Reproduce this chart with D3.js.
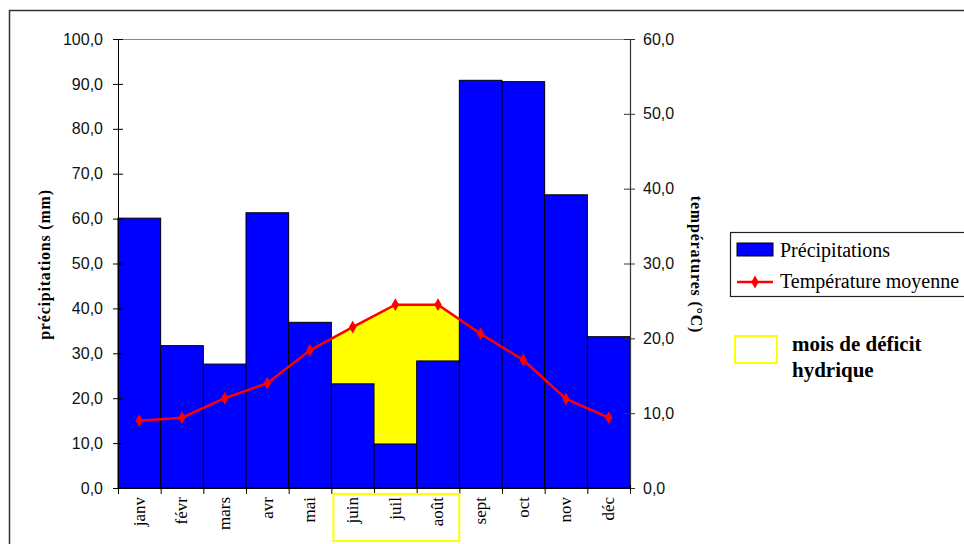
<!DOCTYPE html>
<html>
<head>
<meta charset="utf-8">
<script src="https://cdn.jsdelivr.net/npm/d3@7"></script>
<style>
  html, body { margin: 0; padding: 0; background: #fff; }
  svg { display: block; }
</style>
</head>
<body>
<svg id="chart" width="964" height="544"></svg>
<script>
// ---- data ----
const months = ["janv", "févr", "mars", "avr", "mai", "juin", "juil", "août", "sept", "oct", "nov", "déc"];
const precipitations = [60.1, 31.7, 27.6, 61.3, 36.9, 23.2, 9.8, 28.3, 90.8, 90.5, 65.3, 33.7];
const temperatures = [9.0, 9.4, 12.0, 14.0, 18.4, 21.5, 24.5, 24.5, 20.6, 17.1, 11.9, 9.4];
const deficitMonths = ["juin", "juil", "août"];
const precipTicks = [0, 10, 20, 30, 40, 50, 60, 70, 80, 90, 100];
const tempTicks = [0, 10, 20, 30, 40, 50, 60];
const legendLabels = ["Précipitations", "Température moyenne"];
const deficitLabel = ["mois de déficit", "hydrique"];
const yTitleLeft = "précipitations (mm)";
const yTitleRight = "températures (°C)";

// ---- layout ----
const svg = d3.select("#chart");
const pL = 118, pR = 630, pT = 39, pB = 488;
const fmt = v => d3.format(".1f")(v).replace(".", ",");

const x = d3.scaleBand().domain(months).range([pL, pR]).padding(0);
const yP = d3.scaleLinear().domain([0, 100]).range([pB, pT]);
const yT = d3.scaleLinear().domain([0, 60]).range([pB, pT]);
const xEdge = d3.scaleLinear().domain([0, months.length]).range([pL, pR]);

svg.append("rect").attr("width", 964).attr("height", 544).attr("fill", "#fff");

// outer frame
svg.append("path")
  .attr("d", "M9.5,544 L9.5,10.5 L964,10.5")
  .attr("fill", "none").attr("stroke", "#333").attr("stroke-width", 1.5);

// top plot line
svg.append("line")
  .attr("x1", pL).attr("x2", pR).attr("y1", pT + 0.5).attr("y2", pT + 0.5)
  .attr("stroke", "#8a8a8a").attr("stroke-width", 1);

// yellow deficit area (between temperature line and bars)
const dStart = x(deficitMonths[0]);
const dEnd = x(deficitMonths[deficitMonths.length - 1]) + x.bandwidth();
svg.append("clipPath").attr("id", "defclip")
  .append("rect").attr("x", dStart).attr("y", pT).attr("width", dEnd - dStart).attr("height", pB - pT);
const tempPts = months.map((m, i) => ({ m, t: temperatures[i] }));
svg.append("path")
  .datum(tempPts)
  .attr("clip-path", "url(#defclip)")
  .attr("fill", "#ffff00")
  .attr("d", d3.area()
    .x(d => x(d.m) + x.bandwidth() / 2)
    .y0(pB)
    .y1(d => yT(d.t)));

// bars
svg.append("g").selectAll("rect")
  .data(months.map((m, i) => ({ m, v: precipitations[i] })))
  .join("rect")
  .attr("x", d => x(d.m))
  .attr("y", d => yP(d.v))
  .attr("width", x.bandwidth())
  .attr("height", d => pB - yP(d.v))
  .attr("fill", "#0000ff")
  .attr("stroke", "#000")
  .attr("stroke-width", 1);

// temperature line
svg.append("path")
  .datum(tempPts)
  .attr("fill", "none")
  .attr("stroke", "#ff0000")
  .attr("stroke-width", 2.5)
  .attr("d", d3.line().x(d => x(d.m) + x.bandwidth() / 2).y(d => yT(d.t)));

const diamond = d3.symbol().type(d3.symbolDiamond).size(48);
svg.append("g").selectAll("path")
  .data(tempPts)
  .join("path")
  .attr("transform", d => `translate(${x(d.m) + x.bandwidth() / 2},${yT(d.t)})`)
  .attr("d", diamond)
  .attr("fill", "#ff0000");

// left axis
const gL = svg.append("g").attr("transform", `translate(${pL},0)`)
  .call(d3.axisLeft(yP).tickValues(precipTicks).tickFormat(fmt).tickSizeInner(5).tickSizeOuter(0).tickPadding(10));
gL.selectAll(".tick line").attr("x1", 5).attr("stroke", "#000");
gL.select(".domain").attr("stroke", "#000");
gL.selectAll("text").attr("font-family", "Liberation Sans, Arial, sans-serif").attr("font-size", 16).attr("fill", "#111");

// right axis
const gR = svg.append("g").attr("transform", `translate(${pR},0)`)
  .call(d3.axisRight(yT).tickValues(tempTicks).tickFormat(fmt).tickSizeInner(5).tickSizeOuter(0).tickPadding(8));
gR.selectAll(".tick line").attr("x1", -6).attr("stroke", "#333");
gR.select(".domain").attr("stroke", "#333").attr("stroke-width", 1.2);
gR.selectAll("text").attr("font-family", "Liberation Sans, Arial, sans-serif").attr("font-size", 16).attr("fill", "#111");

// bottom axis (ticks at band edges)
const gB = svg.append("g").attr("transform", `translate(0,${pB})`)
  .call(d3.axisBottom(xEdge).tickValues(d3.range(0, months.length + 1)).tickFormat("").tickSizeInner(6).tickSizeOuter(0));
gB.selectAll(".tick line").attr("y1", -3).attr("stroke", "#000");
gB.select(".domain").attr("stroke", "#000");

// month labels
svg.append("g").selectAll("text")
  .data(months)
  .join("text")
  .attr("transform", d => `translate(${x(d) + x.bandwidth() / 2},${pB + 9}) rotate(-90)`)
  .attr("text-anchor", "end")
  .attr("dy", "0.32em")
  .attr("font-family", "Liberation Serif, Times New Roman, serif")
  .attr("font-size", 17)
  .attr("fill", "#000")
  .text(d => d);

// deficit label box
svg.append("rect")
  .attr("x", dStart + 2).attr("y", 494)
  .attr("width", dEnd - dStart - 2).attr("height", 47)
  .attr("fill", "none").attr("stroke", "#ffff00").attr("stroke-width", 2);

// axis titles
svg.append("text")
  .attr("transform", `translate(44,${(pT + pB) / 2 + 1}) rotate(-90)`)
  .attr("text-anchor", "middle").attr("dy", "0.35em")
  .attr("font-family", "Liberation Serif, Times New Roman, serif")
  .attr("font-weight", "bold").attr("font-size", 16).attr("letter-spacing", 0.8)
  .text(yTitleLeft);
svg.append("text")
  .attr("transform", `translate(697,${(pT + pB) / 2 + 1}) rotate(90)`)
  .attr("text-anchor", "middle").attr("dy", "0.35em")
  .attr("font-family", "Liberation Serif, Times New Roman, serif")
  .attr("font-weight", "bold").attr("font-size", 16).attr("letter-spacing", 0.8)
  .text(yTitleRight);

// legend
const lg = svg.append("g");
lg.append("rect").attr("x", 730.5).attr("y", 232.5).attr("width", 260).attr("height", 64)
  .attr("fill", "#fff").attr("stroke", "#222").attr("stroke-width", 1.2);
lg.append("rect").attr("x", 737).attr("y", 243).attr("width", 36).attr("height", 13)
  .attr("fill", "#0000ff").attr("stroke", "#000").attr("stroke-width", 1);
lg.append("line").attr("x1", 737).attr("x2", 773).attr("y1", 282).attr("y2", 282)
  .attr("stroke", "#ff0000").attr("stroke-width", 2.5);
lg.append("path").attr("transform", "translate(755,282)").attr("d", diamond).attr("fill", "#ff0000");
lg.selectAll("text.leg").data(legendLabels).join("text")
  .attr("class", "leg")
  .attr("x", 780).attr("y", (d, i) => 257 + i * 31)
  .attr("font-family", "Liberation Serif, Times New Roman, serif")
  .attr("font-size", 20).attr("fill", "#000")
  .text(d => d);

lg.append("rect").attr("x", 735).attr("y", 336).attr("width", 42).attr("height", 27)
  .attr("fill", "#fff").attr("stroke", "#ffff00").attr("stroke-width", 2);
lg.selectAll("text.def").data(deficitLabel).join("text")
  .attr("class", "def")
  .attr("x", 792).attr("y", (d, i) => 351 + i * 26)
  .attr("font-family", "Liberation Serif, Times New Roman, serif")
  .attr("font-weight", "bold").attr("font-size", 21).attr("fill", "#000")
  .text(d => d);
</script>
</body>
</html>
